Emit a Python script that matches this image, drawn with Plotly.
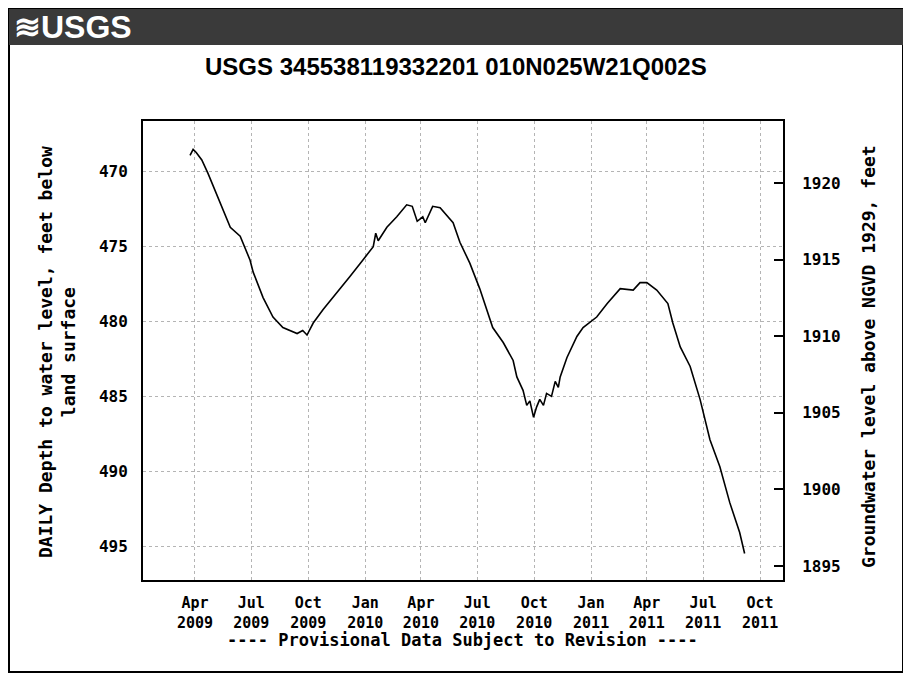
import plotly.graph_objects as go

# ---- data ----
dates = [
    "2009-03-24", "2009-03-29", "2009-04-03", "2009-04-12", "2009-04-22", "2009-05-08",
    "2009-05-28", "2009-06-13", "2009-06-29", "2009-07-04", "2009-07-20", "2009-08-05",
    "2009-08-21", "2009-09-13", "2009-09-22", "2009-09-29", "2009-10-09", "2009-10-25",
    "2009-11-16", "2009-12-07", "2009-12-28", "2010-01-14", "2010-01-18", "2010-01-22",
    "2010-02-05", "2010-02-21", "2010-03-09", "2010-03-18", "2010-03-26", "2010-04-04",
    "2010-04-08", "2010-04-20", "2010-05-02", "2010-05-23", "2010-06-03", "2010-06-19",
    "2010-07-05", "2010-07-26", "2010-08-12", "2010-08-28", "2010-09-03", "2010-09-13",
    "2010-09-19", "2010-09-24", "2010-09-30", "2010-10-05", "2010-10-10", "2010-10-16",
    "2010-10-21", "2010-10-29", "2010-11-04", "2010-11-09", "2010-11-12", "2010-11-23",
    "2010-12-09", "2010-12-19", "2011-01-10", "2011-01-27", "2011-02-17", "2011-03-10",
    "2011-03-21", "2011-04-01", "2011-04-17", "2011-05-05", "2011-05-13", "2011-05-25",
    "2011-06-10", "2011-06-26", "2011-07-12", "2011-07-28", "2011-08-13", "2011-08-29",
    "2011-09-06",
]
depth_ft = [
    468.9, 468.5, 468.7, 469.2, 470.1, 471.7,
    473.7, 474.3, 475.9, 476.7, 478.4, 479.7,
    480.4, 480.8, 480.6, 480.9, 480.1, 479.2,
    478.1, 477.0, 475.9, 475.0, 474.1, 474.6,
    473.7, 473.0, 472.2, 472.3, 473.3, 473.0,
    473.4, 472.3, 472.4, 473.4, 474.7, 476.1,
    477.8, 480.4, 481.4, 482.6, 483.7, 484.6,
    485.6, 485.3, 486.4, 485.7, 485.2, 485.6,
    484.8, 485.0, 484.0, 484.4, 483.7, 482.4,
    481.0, 480.4, 479.7, 478.8, 477.8, 477.9,
    477.4, 477.4, 477.9, 478.8, 480.1, 481.7,
    483.0, 485.2, 487.9, 489.7, 492.1, 494.1,
    495.5,
]
x_tick_dates = ["2009-04-01", "2009-07-01", "2009-10-01", "2010-01-01", "2010-04-01",
                "2010-07-01", "2010-10-01", "2011-01-01", "2011-04-01", "2011-07-01",
                "2011-10-01"]
x_tick_text = ["Apr<br>2009", "Jul<br>2009", "Oct<br>2009", "Jan<br>2010", "Apr<br>2010",
               "Jul<br>2010", "Oct<br>2010", "Jan<br>2011", "Apr<br>2011", "Jul<br>2011",
               "Oct<br>2011"]
left_ticks = [470, 475, 480, 485, 490, 495]
right_ticks = [1895, 1900, 1905, 1910, 1915, 1920]

title_text = "USGS 345538119332201 010N025W21Q002S"
left_title = "DAILY Depth to water level, feet below<br>land surface"
right_title = "Groundwater level above NGVD 1929, feet"
footer_text = "---- Provisional Data Subject to Revision ----"

# ---- layout geometry (page body offsets the figure by 8 px) ----
OFF = 8
W, H = 911 - OFF, 681 - OFF
L, T = 143 - OFF, 121 - OFF
R, B = 128, 101
PW, PH = W - L - R, H - T - B


def px(x):
    # x given in reference (window) pixels
    return (x - OFF - L) / PW


def py(y):
    return (H - B - (y - OFF)) / PH


MONO = "DejaVu Sans Mono"
NARROW = "Liberation Sans Narrow, Arial Narrow, Liberation Sans, sans-serif"

fig = go.Figure()
fig.add_trace(go.Scatter(x=dates, y=depth_ft, mode="lines",
                         line=dict(color="black", width=1.6), showlegend=False))
fig.add_trace(go.Scatter(x=[None], y=[None], yaxis="y2", showlegend=False,
                         hoverinfo="skip"))

tickfont = dict(family=MONO, size=15, color="black", weight="bold")
grid = dict(showgrid=True, gridcolor="#b4b4b4", gridwidth=1, griddash="dot")

fig.update_layout(
    width=W, height=H,
    margin=dict(l=L, r=R, t=T, b=B),
    paper_bgcolor="white", plot_bgcolor="white",
    showlegend=False,
    xaxis=dict(range=["2009-01-07", "2011-11-07"], tickvals=x_tick_dates,
               ticktext=x_tick_text, tickfont=tickfont, ticks="",
               showline=True, linecolor="black", linewidth=2, mirror=True,
               ticklabelstandoff=8, zeroline=False, **grid),
    yaxis=dict(range=[497.27, 466.6], tickvals=left_ticks,
               tickfont=dict(tickfont, size=16),
               ticks="", showline=True, linecolor="black", linewidth=2, mirror=True,
               ticklabelstandoff=10, zeroline=False, **grid),
    yaxis2=dict(range=[1894.08, 1924.05], overlaying="y", side="right",
                tickvals=right_ticks, tickfont=dict(tickfont, size=16), ticks="inside",
                ticklen=9, tickwidth=2, tickcolor="black", showline=True,
                linecolor="black", linewidth=2, showgrid=False, zeroline=False,
                ticklabelstandoff=14),
)

shapes = [
    # outer frame
    dict(type="rect", xref="paper", yref="paper", x0=px(9), x1=px(903), y0=py(672), y1=py(9),
         line=dict(color="black", width=2), fillcolor="rgba(0,0,0,0)", layer="below"),
    # banner
    dict(type="rect", xref="paper", yref="paper", x0=px(9), x1=px(903), y0=py(45), y1=py(9),
         line=dict(width=0), fillcolor="#3a3a3a", layer="below"),
]
fig.update_layout(shapes=shapes)

annotations = [
    dict(text="≋USGS", x=px(12), y=py(27), xanchor="left", yanchor="middle",
         font=dict(family=NARROW, size=32, color="white", weight="bold")),
    dict(text=title_text, x=px(456), y=py(67), xanchor="center", yanchor="middle",
         font=dict(family=NARROW, size=24, color="black", weight="bold")),
    dict(text=left_title, x=px(57), y=py(352), xanchor="center", yanchor="middle",
         textangle=-90, font=dict(family=MONO, size=18, color="black", weight="bold")),
    dict(text=right_title, x=px(868), y=py(357), xanchor="center", yanchor="middle",
         textangle=-90, font=dict(family=MONO, size=18, color="black", weight="bold")),
    dict(text=footer_text, x=px(462), y=py(640), xanchor="center", yanchor="middle",
         font=dict(family=MONO, size=17, color="black", weight="bold")),
]
for a in annotations:
    a.update(xref="paper", yref="paper", showarrow=False)
fig.update_layout(annotations=annotations)

fig.write_html("out.html")
